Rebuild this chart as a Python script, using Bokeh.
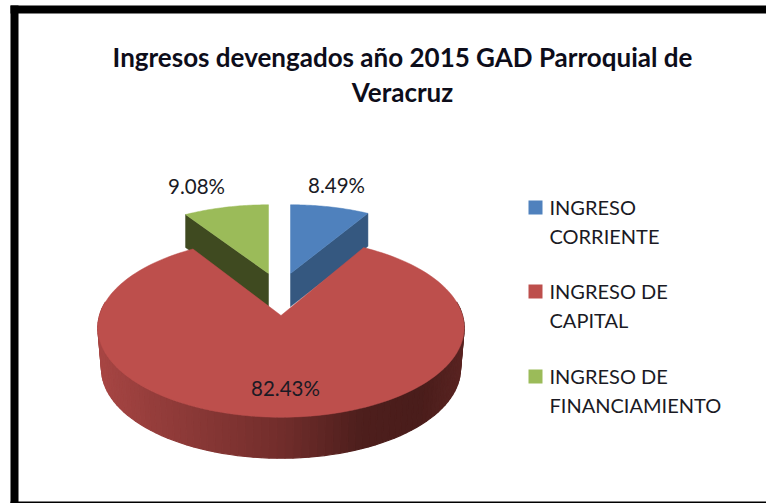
import numpy as np
from bokeh.plotting import figure
from bokeh.embed import file_html
from bokeh.resources import INLINE
from bokeh.core.properties import value
from bokeh.models import Range1d

# ---- data
title_lines = ["Ingresos devengados año 2015 GAD Parroquial de", "Veracruz"]
categories = ["INGRESO CORRIENTE", "INGRESO DE CAPITAL", "INGRESO DE FINANCIAMIENTO"]
legend_lines = [["INGRESO", "CORRIENTE"], ["INGRESO DE", "CAPITAL"], ["INGRESO DE", "FINANCIAMIENTO"]]
shares = [8.49, 82.43, 9.08]
share_labels = ["8.49%", "82.43%", "9.08%"]
top_colors = ["#4f81bd", "#bd4f4c", "#9bbb59"]
wall_colors = ["#355880", "#8a3836", "#3f4a20"]

W, H = 766, 503
FONT = value("Lato")
p = figure(width=W, height=H, output_backend="svg", toolbar_location=None,
           x_range=Range1d(0, W), y_range=Range1d(H, 0), min_border=0,
           margin=0, background_fill_color="white", border_fill_color="white")
p.axis.visible = False
p.grid.visible = False
p.outline_line_color = None

# frame
fx0, fx1, fy0, fy1, ft = 10, 770, 5, 501, 8
p.quad(left=[fx0, fx0, fx0], right=[fx1, fx1, fx0 + ft],
       top=[fy0, fy1, fy0], bottom=[fy0 + ft, fy1 + 5, fy1 + 5],
       fill_color="black", line_color=None)

# 3-D pie projection
K = 0.135
def project(t, apex, A, B):
    X, Y = np.sin(t), np.cos(t)
    s = 1 / (1 + K * Y)
    return apex[0] + A * X * s, apex[1] - B * Y * s

frac = np.array(shares) / sum(shares)
edges = np.concatenate([[0], np.cumsum(frac)]) * 2 * np.pi

apex_list = [(290, 273), (280.5, 315), (268, 273)]
scale_list = [(170, 78), (181.5, 88), (171, 78)]
depth_back = 33

# blue and green wedges: radial side wall then top face
for i in (0, 2):
    t = np.linspace(edges[i], edges[i + 1], 40)
    xs, ys = project(t, apex_list[i], *scale_list[i])
    ax, ay = apex_list[i]
    ex, ey = (xs[-1], ys[-1]) if i == 0 else (xs[0], ys[0])
    p.patch([ax, ex, ex, ax], [ay, ey, ey + depth_back, ay + depth_back],
            fill_color=wall_colors[i], line_color=wall_colors[i], line_width=0.5)
    p.patch([ax, *xs], [ay, *ys], fill_color=top_colors[i], line_color=top_colors[i], line_width=0.5)

# red wedge: outer wall as shaded strips, then top face
ax, ay = apex_list[1]
A, B = scale_list[1]
dy = 41
tw = np.linspace(np.pi * 0.45, np.pi * 1.55, 90)
ux, uy = project(tw, (ax, ay), A, B)
lx, ly = project(tw, (ax, ay + dy), A * 0.98, B)
stops_x = [97, 150, 280, 360, 420, 464]
stops_rgb = np.array([[0xa8, 0x46, 0x44], [0x96, 0x3e, 0x3c], [0x72, 0x2e, 0x2c],
                      [0x4e, 0x1f, 0x1d], [0x4a, 0x1d, 0x1b], [0x5a, 0x24, 0x22]])
sx, sy, sc = [], [], []
for j in range(len(tw) - 1):
    sx.append([ux[j], ux[j + 1], lx[j + 1], lx[j]])
    sy.append([uy[j], uy[j + 1], ly[j + 1], ly[j]])
    mid = (ux[j] + ux[j + 1]) / 2
    rgb = [int(np.interp(mid, stops_x, stops_rgb[:, c])) for c in range(3)]
    sc.append("#%02x%02x%02x" % tuple(rgb))
p.patches(sx, sy, fill_color=sc, line_color=sc, line_width=1.2)

t = np.linspace(edges[1], edges[2], 160)
xs, ys = project(t, (ax, ay), A, B)
p.patch([ax, *xs], [ay, *ys], fill_color=top_colors[1], line_color=top_colors[1], line_width=0.5)

# title
p.text(x=[402, 402], y=[56.5, 91.5], text=title_lines, text_font=FONT, text_font_style="bold",
       text_font_size="26px", text_align="center", text_baseline="middle", text_color="#0d0d1a")

# value labels
p.text(x=[336, 285, 196], y=[184, 387, 185], text=share_labels, text_font=FONT,
       text_font_size="20.5px", text_align="center", text_baseline="middle", text_color="#1a1a24")

# legend
leg_y = [207, 291, 376]
p.quad(left=[528] * 3, right=[542] * 3, top=[y - 7 for y in leg_y], bottom=[y + 7 for y in leg_y],
       fill_color=top_colors, line_color=None)
tx, ty, tt = [], [], []
for y, lines in zip(leg_y, legend_lines):
    tx += [549, 549]
    ty += [y - 1, y + 28]
    tt += lines
p.text(x=tx, y=ty, text=tt, text_font=FONT, text_font_size="20px",
       text_align="left", text_baseline="middle", text_color="#1a1a24")

open("out.html", "w").write(file_html(p, INLINE))
